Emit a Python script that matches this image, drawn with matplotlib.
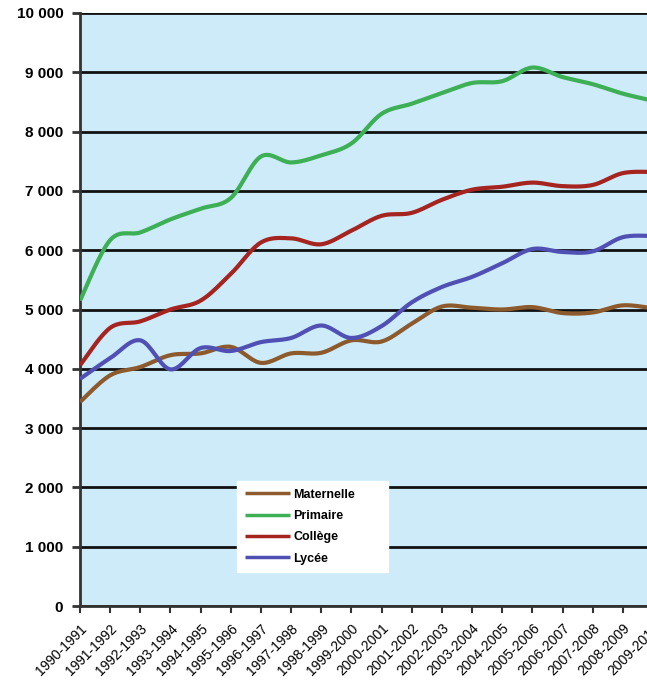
import numpy as np
import matplotlib.pyplot as plt

annees = ["1990-1991", "1991-1992", "1992-1993", "1993-1994", "1994-1995",
          "1995-1996", "1996-1997", "1997-1998", "1998-1999", "1999-2000",
          "2000-2001", "2001-2002", "2002-2003", "2003-2004", "2004-2005",
          "2005-2006", "2006-2007", "2007-2008", "2008-2009", "2009-2010"]

maternelle = [3440, 3890, 4030, 4230, 4260, 4370, 4100, 4260, 4270, 4480,
              4460, 4760, 5050, 5030, 5000, 5040, 4940, 4950, 5070, 5020]
primaire = [5150, 6170, 6300, 6520, 6700, 6880, 7580, 7480, 7600, 7800,
            8300, 8470, 8650, 8820, 8850, 9080, 8920, 8800, 8640, 8520]
college = [4060, 4690, 4800, 5000, 5150, 5600, 6130, 6200, 6100, 6330,
           6580, 6630, 6850, 7020, 7070, 7140, 7080, 7100, 7300, 7320]
lycee = [3830, 4180, 4480, 3990, 4350, 4300, 4450, 4520, 4730, 4520,
         4720, 5120, 5380, 5550, 5780, 6020, 5970, 5980, 6220, 6240]

series = [("Maternelle", maternelle, "#8c5a2c"),
          ("Primaire", primaire, "#3daf55"),
          ("Collège", college, "#a52420"),
          ("Lycée", lycee, "#5050b4")]


def lisser(y, n=20):
    # courbe lissee type Bezier (Catmull-Rom) passant par chaque point
    y = np.asarray(y, dtype=float)
    x = np.arange(len(y), dtype=float)
    px = np.concatenate([[x[0]], x, [x[-1]]])
    py = np.concatenate([[y[0]], y, [y[-1]]])
    xs, ys = [], []
    t = np.linspace(0, 1, n)
    for i in range(len(y) - 1):
        p0 = np.array([px[i + 1], py[i + 1]])
        p3 = np.array([px[i + 2], py[i + 2]])
        p1 = p0 + (np.array([px[i + 2], py[i + 2]]) - np.array([px[i], py[i]])) / 6
        p2 = p3 - (np.array([px[i + 3], py[i + 3]]) - np.array([px[i + 1], py[i + 1]])) / 6
        b = ((1 - t) ** 3)[:, None] * p0 + (3 * (1 - t) ** 2 * t)[:, None] * p1 \
            + (3 * (1 - t) * t ** 2)[:, None] * p2 + (t ** 3)[:, None] * p3
        xs.extend(b[:, 0])
        ys.extend(b[:, 1])
    return np.array(xs), np.array(ys)


plt.rcParams['font.family'] = ['Liberation Sans', 'DejaVu Sans']

fig = plt.figure(figsize=(6.47, 6.88), dpi=100)
ax = fig.add_axes([80 / 647, 82 / 688, 573 / 647, 593 / 688])
ax.set_facecolor("#cdebf9")

for nom, vals, couleur in series:
    xs, ys = lisser(vals)
    ax.plot(xs, ys, color=couleur, lw=3, label=nom, solid_capstyle='butt', zorder=3)

ax.set_xlim(0, len(annees) - 1)
ax.set_ylim(0, 10000)
ax.set_yticks(np.arange(0, 10001, 1000))
ax.set_yticklabels(["0" if v == 0 else f"{v // 1000} 000" for v in range(0, 10001, 1000)],
                   fontsize=11, fontweight='bold')
ax.set_xticks(range(len(annees)))
ax.set_xticklabels(annees, rotation=45, ha='right', rotation_mode='anchor', fontsize=10)
ax.grid(axis='y', color='#111111', lw=2, zorder=1)
ax.set_axisbelow(True)

for s in ['top', 'right']:
    ax.spines[s].set_visible(False)
ax.spines['left'].set_color('#333333')
ax.spines['left'].set_linewidth(2)
ax.spines['bottom'].set_color('#333333')
ax.spines['bottom'].set_linewidth(2)
ax.tick_params(axis='y', length=6, width=2, color='#333333', pad=6)
ax.tick_params(axis='x', length=5, width=1.5, color='#333333', pad=6)

leg = ax.legend(loc='lower left', bbox_to_anchor=(0.274, 0.057, 0.264, 0.164),
                mode='expand', frameon=True, fancybox=False, handlelength=3.6,
                prop={'weight': 'bold', 'size': 9}, borderpad=0.6,
                labelspacing=0.75, handletextpad=0.3, borderaxespad=0)
leg.get_frame().set_facecolor('white')
leg.get_frame().set_edgecolor('white')
leg.get_frame().set_alpha(1)
for l in leg.get_lines():
    l.set_linewidth(2.5)

fig.savefig("out.png", dpi=100)
